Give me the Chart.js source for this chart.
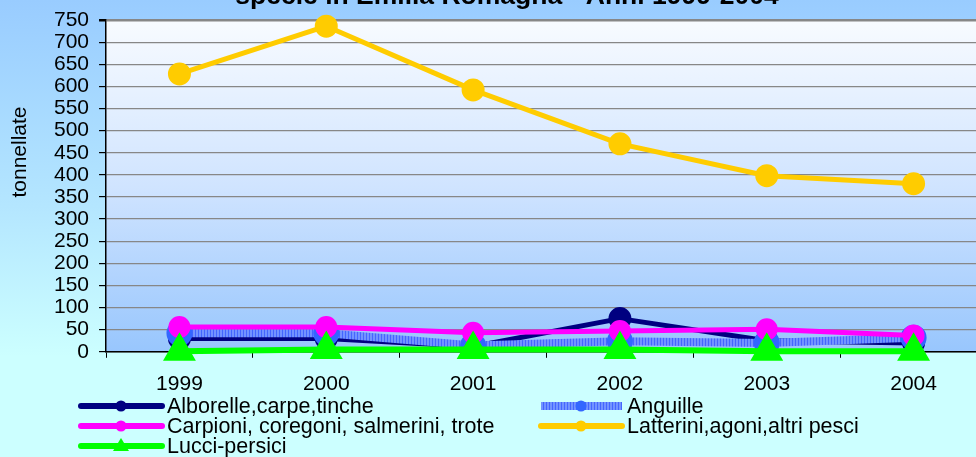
<!DOCTYPE html>
<html>
<head>
<meta charset="utf-8">
<script src="https://cdn.jsdelivr.net/npm/chart.js@4.4.0/dist/chart.umd.min.js"></script>
<style>
  html, body { margin: 0; padding: 0; width: 976px; height: 457px; overflow: hidden; }
  body { background: linear-gradient(to bottom, #99ccff 0%, #b4e6ff 45%, #ccffff 78%, #ccffff 100%); position: relative; }
  #chart { position: absolute; left: 0; top: -20px; }
</style>
</head>
<body>
<canvas id="chart" width="1006" height="477"></canvas>
<script>
var years = ['1999', '2000', '2001', '2002', '2003', '2004'];
var alborelle = [30, 30, 12, 75, 25, 20];
var anguille = [42, 42, 14, 24, 20, 32];
var carpioni = [56, 56, 43, 47, 51, 37];
var latterini = [628, 736, 592, 470, 398, 380];
var lucci = [1, 5, 5, 5, 1, 1];
var seriesNames = ['Alborelle,carpe,tinche', 'Anguille', 'Carpioni, coregoni, salmerini, trote',
    'Latterini,agoni,altri pesci', 'Lucci-persici'];
var titleText = 'specie in Emilia Romagna - Anni 1999-2004';
var yTitle = 'tonnellate';

// striped band for "Anguille"
function stripes() {
    var c = document.createElement('canvas');
    c.width = 3; c.height = 1;
    var g = c.getContext('2d');
    g.fillStyle = '#7393ff'; g.fillRect(0, 0, 3, 1);
    g.fillStyle = '#4466ff'; g.fillRect(0, 0, 1, 1);
    return g.createPattern(c, 'repeat');
}
var band = stripes();

var plotBg = {
    id: 'plotBg',
    beforeDraw: function (chart) {
        var a = chart.chartArea, ctx = chart.ctx;
        var gr = ctx.createLinearGradient(0, a.top, 0, a.bottom);
        gr.addColorStop(0, '#f8fbff');
        gr.addColorStop(0.5, '#d0e4ff');
        gr.addColorStop(1, '#98c6fd');
        ctx.save();
        ctx.fillStyle = gr;
        ctx.fillRect(a.left, a.top, a.right - a.left, a.bottom - a.top);
        ctx.restore();
    }
};

var extras = {
    id: 'extras',
    afterDraw: function (chart) {
        var ctx = chart.ctx;
        ctx.save();
        // title (cut off at the top of the page)
        ctx.fillStyle = '#000';
        ctx.font = 'bold 26.5px "Liberation Sans", Arial, sans-serif';
        ctx.textAlign = 'center';
        ctx.textBaseline = 'alphabetic';
        ctx.fillText(titleText, 507, 24);
        // y axis title
        ctx.translate(20, 172);
        ctx.rotate(-Math.PI / 2);
        ctx.font = '21px "Liberation Sans", Arial, sans-serif';
        ctx.textBaseline = 'middle';
        ctx.fillText(yTitle, 0, 0);
        ctx.restore();

        // legend, two columns
        var colX = [78, 538];
        var rowY = [426, 446, 466];
        ctx.save();
        ctx.font = '21.5px "Liberation Sans", Arial, sans-serif';
        ctx.textBaseline = 'middle';
        ctx.textAlign = 'left';
        chart.data.datasets.forEach(function (ds, i) {
            var x = colX[i % 2], y = rowY[Math.floor(i / 2)];
            ctx.lineCap = ds.label === 'Anguille' ? 'butt' : 'round';
            ctx.strokeStyle = ds.borderColor;
            ctx.lineWidth = ds.label === 'Anguille' ? 8 : 6;
            ctx.beginPath();
            ctx.moveTo(x + 3, y);
            ctx.lineTo(x + 84, y);
            ctx.stroke();
            ctx.fillStyle = ds.pointBackgroundColor;
            var cx = x + 43;
            ctx.beginPath();
            if (ds.pointStyle === 'triangle') {
                ctx.moveTo(cx, y - 8);
                ctx.lineTo(cx + 8, y + 5);
                ctx.lineTo(cx - 8, y + 5);
                ctx.closePath();
            } else {
                ctx.arc(cx, y, 5.5, 0, Math.PI * 2);
            }
            ctx.fill();
            ctx.fillStyle = '#000';
            ctx.fillText(ds.label, x + 89, y + 1);
        });
        ctx.restore();
    }
};

var ctx = document.getElementById('chart');
var myChart = new Chart(ctx, {
    type: 'line',
    data: {
        labels: years,
        datasets: [
            { label: seriesNames[0], data: alborelle, borderColor: '#000080', pointBackgroundColor: '#000080',
              pointBorderColor: '#000080', borderWidth: 5, pointRadius: 9, order: 5 },
            { label: seriesNames[1], data: anguille, borderColor: band, pointBackgroundColor: '#3366ff',
              pointBorderColor: '#3366ff', borderWidth: 8, pointRadius: 9, order: 4 },
            { label: seriesNames[2], data: carpioni, borderColor: '#ff00ff', pointBackgroundColor: '#ff00ff',
              pointBorderColor: '#ff00ff', borderWidth: 5, pointRadius: 8.5, order: 3 },
            { label: seriesNames[3], data: latterini, borderColor: '#ffcc00', pointBackgroundColor: '#ffcc00',
              pointBorderColor: '#ffcc00', borderWidth: 5, pointRadius: 9, order: 2 },
            { label: seriesNames[4], data: lucci, borderColor: '#00ff00', pointBackgroundColor: '#00ff00',
              pointBorderColor: '#00ff00', borderWidth: 6, pointRadius: 13, pointStyle: 'triangle', order: 1 }
        ]
    },
    options: {
        responsive: false,
        animation: false,
        devicePixelRatio: 1,
        layout: { padding: { left: 44, right: 5, top: 40, bottom: 46 } },
        plugins: { legend: { display: false }, title: { display: false }, tooltip: { enabled: false } },
        datasets: { line: { clip: false } },
        elements: { line: { tension: 0, borderCapStyle: 'round', borderJoinStyle: 'round' }, point: { borderWidth: 1 } },
        scales: {
            x: {
                offset: true,
                grid: { offset: true, drawOnChartArea: false, tickLength: 6, tickColor: '#000' },
                border: { color: '#000', width: 1.5 },
                ticks: { color: '#000', padding: 14, font: { family: '"Liberation Sans", Arial, sans-serif', size: 21 } }
            },
            y: {
                min: 0,
                max: 750,
                ticks: { stepSize: 50, autoSkip: false, color: '#000', padding: 10,
                         font: { family: '"Liberation Sans", Arial, sans-serif', size: 21 } },
                grid: { color: '#878787', lineWidth: function (c) { return c.tick && c.tick.value === 750 ? 2.5 : 1.2; },
                        tickLength: 7, tickColor: '#000' },
                border: { color: '#000', width: 1.5 }
            }
        }
    },
    plugins: [plotBg, extras]
});
</script>
</body>
</html>
